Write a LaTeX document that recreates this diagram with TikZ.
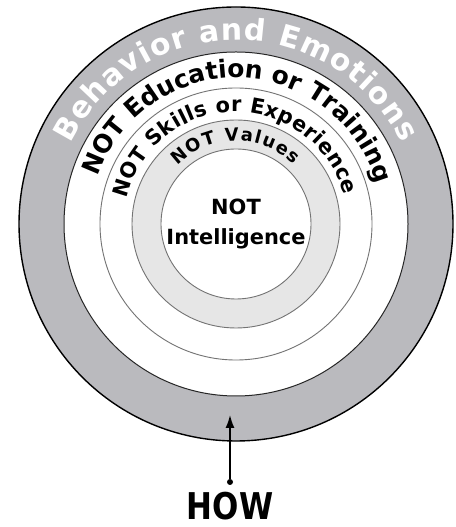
\documentclass[tikz,border=0pt]{standalone}
\usepackage{fontspec}
\setmainfont{DejaVu Sans}
\usetikzlibrary{decorations.text,arrows.meta}
\definecolor{band}{RGB}{186,186,190}
\definecolor{ring}{RGB}{230,230,230}
\tikzset{
    rim/.style={draw=black, line width=1.4bp},
    thin rim/.style={draw=black!55, line width=0.9bp},
    arc text/.style={decorate, decoration={text along path, text align=fit to path, text={#1}}},
}

\begin{document}
\begin{tikzpicture}[x=1bp,y=1bp]
			\useasboundingbox (0,0) rectangle (456,527);
			\coordinate (c) at (236,303);
			% Ringe von aussen nach innen
			\draw[rim, fill=band] (c) circle (217);
			\draw[draw=black!85, line width=1bp, fill=white] (c) circle (172);
			\draw[thin rim, fill=white] (c) circle (136);
			\draw[thin rim, fill=ring] (c) circle (104);
			\draw[thin rim, fill=white] (c) circle (75);
			\path[arc text={|\color{white}\bfseries\fontsize{30}{30}\selectfont|Behavior and Emotions}]
				(c) ++(154:184) arc[start angle=154, end angle=26, radius=184];
			\path[arc text={|\bfseries\fontsize{25}{25}\selectfont|NOT Education or Training}]
				(c) ++(161:146) arc[start angle=161, end angle=19, radius=146];
			\path[arc text={|\bfseries\fontsize{21}{21}\selectfont|NOT Skills or Experience}]
				(c) ++(167:112) arc[start angle=167, end angle=15, radius=112];
			\path[arc text={|\bfseries\fontsize{18}{18}\selectfont|NOT Values}]
				(c) ++(135:83) arc[start angle=135, end angle=46, radius=83];
			\node[font=\bfseries\fontsize{21}{21}\selectfont, anchor=base] (not) at (236,312) {NOT};
			\node[font=\bfseries\fontsize{21}{21}\selectfont, anchor=base] (iq) at (236,282) {Intelligence};
			\node[font=\bfseries\fontsize{37}{37}\selectfont, xscale=0.84, inner sep=0pt] (how) at (230,21) {HOW};
			\node[circle, fill, inner sep=0pt, minimum size=6bp] (dot) at (230,45) {};
			\coordinate (tip) at (230,112);
			\draw[-{Latex[length=13bp,width=9bp]}, line width=1.5bp] (dot) -- (tip);
		\end{tikzpicture}
\end{document}
